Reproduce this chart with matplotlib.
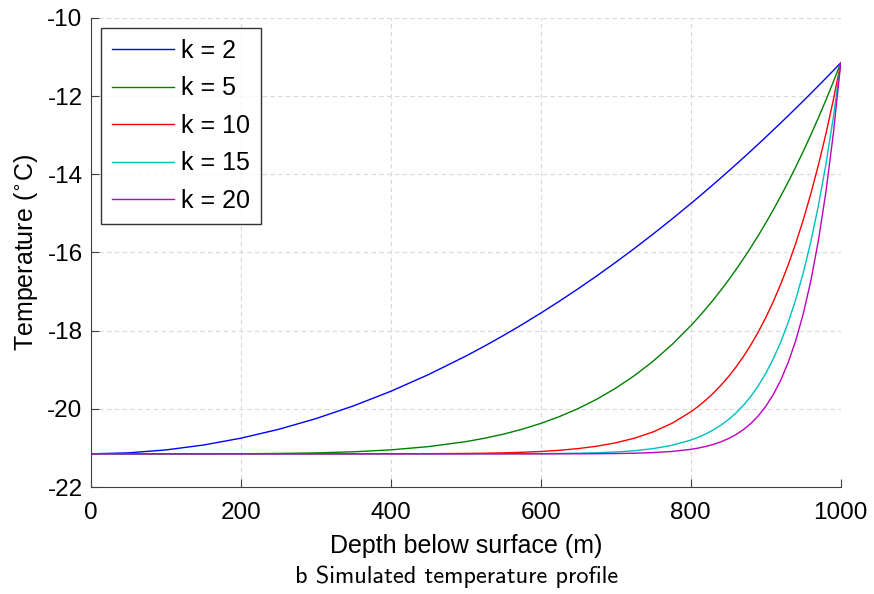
import numpy as np
import matplotlib
matplotlib.use("Agg")
import matplotlib.pyplot as plt

plt.rcParams['font.family'] = ['Liberation Sans', 'DejaVu Sans']
plt.rcParams['axes.unicode_minus'] = False

# depth below surface (m)
depth = [0, 50, 100, 150, 200, 250, 300, 350, 400, 450, 500,
         525, 550, 575, 600, 625, 650, 675, 700, 725, 750, 775, 800,
         810, 820, 830, 840, 850, 860, 870, 880, 890, 900,
         910, 920, 930, 940, 950, 960, 970, 980, 990, 1000]

# temperature (deg C) for each k
temp_k2 = [-21.15, -21.125, -21.05, -20.925, -20.75, -20.525, -20.25, -19.925, -19.55,
           -19.125, -18.65,
           -18.394, -18.125, -17.844, -17.55, -17.244, -16.925, -16.594, -16.25, -15.894,
           -15.525, -15.144, -14.75,
           -14.589, -14.426, -14.261, -14.094, -13.925, -13.754, -13.581, -13.406, -13.229,
           -13.05, -12.869, -12.686, -12.501, -12.314, -12.125, -11.934, -11.741, -11.546,
           -11.349, -11.15]
temp_k5 = [-21.15, -21.15, -21.15, -21.149, -21.147, -21.14, -21.126, -21.098, -21.048,
           -20.966, -20.838,
           -20.751, -20.647, -20.521, -20.372, -20.196, -19.99, -19.749, -19.469, -19.147,
           -18.777, -18.354, -17.873,
           -17.663, -17.443, -17.211, -16.968, -16.713, -16.446, -16.166, -15.873, -15.566,
           -15.245, -14.91, -14.559, -14.193, -13.811, -13.412, -12.996, -12.563, -12.111,
           -11.64, -11.15]
temp_k10 = [-21.15, -21.15, -21.15, -21.15, -21.15, -21.15, -21.15, -21.15, -21.149,
            -21.147, -21.14,
            -21.134, -21.125, -21.11, -21.09, -21.059, -21.015, -20.954, -20.868, -20.749,
            -20.587, -20.368, -20.076,
            -19.934, -19.775, -19.598, -19.401, -19.181, -18.937, -18.666, -18.365, -18.032,
            -17.663, -17.256, -16.806, -16.31, -15.764, -15.163, -14.502, -13.776, -12.979,
            -12.106, -11.15]
temp_k15 = [-21.15, -21.15, -21.15, -21.15, -21.15, -21.15, -21.15, -21.15, -21.15,
            -21.15, -21.15,
            -21.149, -21.149, -21.148, -21.145, -21.141, -21.134, -21.122, -21.103, -21.07,
            -21.016, -20.931, -20.798,
            -20.726, -20.64, -20.539, -20.419, -20.276, -20.109, -19.912, -19.68, -19.409,
            -19.091, -18.72, -18.287, -17.783, -17.197, -16.517, -15.729, -14.817, -13.764,
            -12.549, -11.15]
temp_k20 = [-21.15, -21.15, -21.15, -21.15, -21.15, -21.15, -21.15, -21.15, -21.15,
            -21.15, -21.15,
            -21.15, -21.15, -21.15, -21.15, -21.149, -21.148, -21.146, -21.142, -21.134,
            -21.118, -21.089, -21.035,
            -21.002, -20.961, -20.909, -20.844, -20.762, -20.66, -20.533, -20.374, -20.178,
            -19.934, -19.634, -19.263, -18.808, -18.249, -17.565, -16.73, -15.712, -14.474,
            -12.971, -11.15]

labels = ['k = 2', 'k = 5', 'k = 10', 'k = 15', 'k = 20']
colors = [(0, 0, 1), (0, 0.5, 0), (1, 0, 0), (0, 0.75, 0.75), (0.75, 0, 0.75)]

fig = plt.figure(figsize=(8.74, 5.94), dpi=100)
ax = fig.add_axes([0.104, 0.18, 0.858, 0.79])

for temp, lab, c in zip([temp_k2, temp_k5, temp_k10, temp_k15, temp_k20], labels, colors):
    ax.plot(depth, temp, color=c, lw=1.0, label=lab)

ax.set_xlim(0, 1000)
ax.set_ylim(-22, -10)
ax.set_xticks(np.arange(0, 1001, 200))
ax.set_yticks(np.arange(-22, -9, 2))
ax.grid(True, color='#d9d9d9', linestyle=(0, (4, 3)), lw=0.8)
ax.set_axisbelow(True)

for s in ['top', 'right']:
    ax.spines[s].set_visible(False)
for s in ['left', 'bottom']:
    ax.spines[s].set_color('#404040')
    ax.spines[s].set_linewidth(0.8)

ax.tick_params(direction='in', length=6, width=0.8, color='#404040',
               labelsize=17.5)
ax.tick_params(axis='x', pad=11)
ax.tick_params(axis='y', pad=6)
ax.set_xlabel('Depth below surface (m)', fontsize=18, labelpad=7)
ax.set_ylabel('Temperature ($^{\\circ}$C)', fontsize=18, labelpad=5)

leg = ax.legend(loc='upper left', fontsize=18, frameon=True, fancybox=False,
                handlelength=2.5, handletextpad=0.25, labelspacing=0.54,
                borderpad=0.45, borderaxespad=0, bbox_to_anchor=(0.013, 0.979))
leg.get_frame().set_edgecolor('black')
leg.get_frame().set_linewidth(1.0)

fig.text(0.522, 0.018, 'b Simulated temperature profile', ha='center',
         fontsize=17.5, family='cmss10')

fig.savefig('out.png', dpi=100)
